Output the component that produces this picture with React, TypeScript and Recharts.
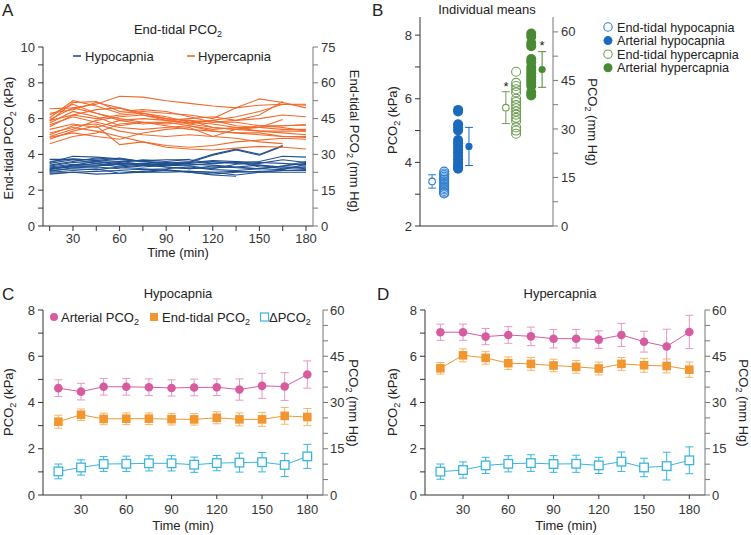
import React from "react";
import { LineChart, Line, XAxis, YAxis, ScatterChart, Scatter, ErrorBar } from "recharts";

const FONT = '"Liberation Sans", Arial, sans-serif';

// ---- panel A: individual end-tidal traces (kPa), one row per subject ----
const times = [15, 30, 45, 60, 75, 90, 105, 120, 135, 150, 165, 180];

const hypoLines: (number | null)[][] = [
  [3.72, 3.72, 3.7, 3.6, 3.65, 3.7, 3.7, 3.5, 3.6, 3.55, 3.5, 3.4],
  [3.55, 3.9, 3.85, 3.75, 3.6, 3.5, 3.55, 3.65, 3.6, 3.3, 3.3, 3.3],
  [3.4, 3.6, 3.8, 3.7, 3.6, 3.55, 3.45, 3.4, 3.3, 3.2, 3.35, 3.5],
  [3.3, 3.45, 3.4, 3.5, 3.4, 3.5, 3.6, 4.0, 4.3, 4.0, 4.5, null],
  [3.25, 3.35, 3.35, 3.45, 3.5, 3.4, 3.55, 3.95, 4.25, 3.95, 4.45, null],
  [3.2, 3.3, 3.35, 3.45, 3.5, 3.4, 3.5, 3.6, 3.5, 3.6, 3.9, 3.85],
  [3.1, 3.2, 3.15, 3.3, 3.2, 3.1, 3.05, 3.0, 2.85, 3.0, 3.1, 3.1],
  [3.0, 3.1, 3.2, 2.95, 3.0, 3.1, 3.0, 2.85, 2.78, null, null, null],
  [2.95, 3.0, 3.05, 3.1, 3.0, 3.0, 3.05, 3.0, 3.05, 3.0, 3.0, 3.0],
  [3.15, 3.35, 3.5, 3.3, 3.4, 3.3, 3.2, 3.25, 3.3, 3.4, 3.2, 3.3],
  [3.35, 3.55, 3.6, 3.55, 3.7, 3.6, 3.72, null, null, null, null, null],
  [3.5, 3.7, 3.5, 3.6, 3.45, 3.3, 3.2, 3.35, 3.25, 3.2, 3.15, 3.45],
  [3.05, 3.25, 3.3, 3.2, 3.15, 3.2, 3.3, 3.15, 3.1, 3.2, 3.35, 3.6],
  [3.2, 3.4, 3.6, 3.4, 3.3, 3.4, 3.35, 3.2, 3.45, 3.5, 3.7, 3.55],
  [3.6, 3.75, 3.65, 3.8, 3.6, 3.45, 3.4, 3.5, 3.55, 3.4, 3.3, 3.2],
  [2.9, 3.0, 2.9, 2.95, 3.05, 3.15, 3.0, 2.9, 3.0, 3.05, 3.1, 3.15],
];

const hyperLines: (number | null)[][] = [
  [6.55, 6.6, 6.8, 7.25, 7.2, 7.0, 6.85, 6.7, 6.6, 6.75, 6.8, 6.75],
  [6.05, 7.0, 6.7, 6.3, 6.4, 6.3, 6.2, 6.0, 6.6, 7.1, 6.9, 6.6],
  [5.85, 6.9, 6.95, 6.4, 6.5, 6.4, 6.1, 5.8, 5.9, 6.2, 6.95, null],
  [5.95, 6.6, 6.3, 5.9, 6.0, 5.9, 5.7, 5.9, 5.6, 5.5, 5.6, 5.65],
  [5.75, 6.4, 6.1, 5.6, 5.8, 5.8, 5.6, 5.4, 5.5, 5.3, 5.3, 5.3],
  [5.55, 6.2, 6.5, 6.6, 6.3, 6.1, 5.8, 5.7, 5.5, 5.5, 5.4, 5.4],
  [5.0, 5.4, 5.9, 6.1, 6.2, 6.0, 5.9, 5.8, 5.8, 5.6, 5.6, 5.65],
  [4.6, 5.0, 5.2, 5.7, 5.8, 5.6, 5.4, 5.3, 5.2, 5.1, 5.0, 5.0],
  [4.85, 5.3, 5.6, 4.55, 4.7, 4.5, 4.4, 4.5, 4.7, 4.8, 4.9, 4.85],
  [5.2, 5.5, 5.3, 5.0, 4.7, 4.4, 4.3, 4.25, 4.35, 4.45, 4.4, 4.3],
  [5.4, 5.7, 5.5, 5.9, 5.7, 5.8, 5.9, 5.5, 5.4, 5.3, 5.2, 5.1],
  [6.3, 6.5, 6.9, 6.6, 6.2, 5.9, 6.0, 6.1, 5.9, 6.0, 6.2, 6.1],
  [5.65, 6.1, 5.8, 5.5, 5.4, 5.5, 5.6, 5.3, 5.2, 5.2, 5.0, 4.95],
  [5.1, 5.6, 5.7, 5.3, 5.1, 5.0, 5.1, 5.0, 5.4, 5.6, 5.5, 5.3],
  [6.2, 6.8, 6.3, 6.0, 5.8, 5.7, 5.8, 5.9, 6.1, 6.4, 6.8, 6.8],
  [4.95, 5.2, 5.0, 4.85, 5.2, 5.4, 5.5, 5.0, 4.9, 4.7, 4.6, null],
  [5.9, 6.2, 6.0, 6.2, 6.3, 6.0, 5.7, 5.5, 5.4, 5.5, 5.95, null],
];

// ---- panel B: individual means (kPa) ----
const etHypo = [3.71, 3.65, 3.6, 3.55, 3.5, 3.45, 3.4, 3.35, 3.3, 3.25, 3.2, 3.15, 3.1, 3.05, 3.02];
const artHypo = [5.65, 5.6, 5.2, 5.1, 5.0, 4.7, 4.6, 4.5, 4.4, 4.3, 4.2, 4.1, 4.0, 3.9, 3.85, 3.8];
const etHyper = [6.85, 6.5, 6.4, 6.3, 6.2, 6.0, 5.9, 5.8, 5.7, 5.6, 5.5, 5.4, 5.3, 5.1, 5.0, 4.9];
const artHyper = [8.05, 7.95, 7.75, 7.65, 7.25, 7.15, 7.0, 6.9, 6.8, 6.7, 6.6, 6.5, 6.4, 6.2, 6.1];
const groupMean = [3.4, 4.5, 5.72, 6.92];
const groupSD = [0.21, 0.6, 0.5, 0.56];
const groupNames = ["End-tidal hypocapnia", "Arterial hypocapnia", "End-tidal hypercapnia", "Arterial hypercapnia"];
// category slots along the (unlabelled) x axis
const slotMean = [1, 4.05, 7.1, 10.1];
const slotIndiv = [2, 3.15, 7.95, 9.2];

// ---- panels C and D: group means ± SD (kPa) ----
const cArt = [4.62, 4.47, 4.68, 4.68, 4.66, 4.63, 4.65, 4.66, 4.56, 4.72, 4.69, 5.21];
const cArtSD = [0.36, 0.36, 0.36, 0.36, 0.36, 0.35, 0.36, 0.36, 0.46, 0.54, 0.6, 0.59];
const cEt = [3.17, 3.47, 3.29, 3.3, 3.3, 3.28, 3.27, 3.34, 3.27, 3.27, 3.42, 3.37];
const cEtSD = [0.28, 0.25, 0.25, 0.25, 0.25, 0.25, 0.25, 0.26, 0.28, 0.3, 0.36, 0.37];
const cDelta = [1.02, 1.19, 1.34, 1.35, 1.37, 1.37, 1.31, 1.38, 1.4, 1.42, 1.3, 1.67];
const cDeltaSD = [0.32, 0.33, 0.32, 0.33, 0.33, 0.33, 0.33, 0.33, 0.41, 0.42, 0.5, 0.52];

const dArt = [7.04, 7.04, 6.85, 6.92, 6.86, 6.76, 6.76, 6.72, 6.92, 6.63, 6.42, 7.05];
const dArtSD = [0.35, 0.35, 0.35, 0.36, 0.4, 0.4, 0.4, 0.38, 0.5, 0.45, 0.75, 0.72];
const dEt = [5.48, 6.04, 5.93, 5.7, 5.67, 5.6, 5.54, 5.47, 5.67, 5.61, 5.58, 5.42];
const dEtSD = [0.25, 0.28, 0.27, 0.27, 0.28, 0.27, 0.27, 0.28, 0.28, 0.3, 0.3, 0.33];
const dDelta = [1.01, 1.08, 1.28, 1.35, 1.38, 1.34, 1.35, 1.28, 1.44, 1.19, 1.25, 1.5];
const dDeltaSD = [0.33, 0.35, 0.35, 0.35, 0.36, 0.36, 0.37, 0.35, 0.42, 0.4, 0.6, 0.58];

const A_BLUE = "#1f4f8f";
const A_ORANGE = "#f06b2d";
const B_BLUE = "#1a6bbd";
const B_GREEN = "#4a8a35";
const PINK = "#d65c9f";
const ORANGE = "#f29630";
const CYAN = "#39b5de";
const AX_L = "#333";
const AX_R = "#777";

const tickStyle = { fill: "#333", fontSize: 13, fontFamily: FONT };

const aRows = times.map((t, i) => {
  const row: Record<string, number | null> = { t };
  hypoLines.forEach((l, j) => (row["hypo" + j] = l[i]));
  hyperLines.forEach((l, j) => (row["hyper" + j] = l[i]));
  return row;
});

const makeRows = (art: number[], artSD: number[], et: number[], etSD: number[], d: number[], dSD: number[]) =>
  times.map((t, i) => ({ t, art: art[i], artSD: artSD[i], et: et[i], etSD: etSD[i], d: d[i], dSD: dSD[i] }));

const cRows = makeRows(cArt, cArtSD, cEt, cEtSD, cDelta, cDeltaSD);
const dRows = makeRows(dArt, dArtSD, dEt, dEtSD, dDelta, dDeltaSD);

const circleDot = (color: string) => (p: any) => (
  <circle key={"c" + p.index} cx={p.cx} cy={p.cy} r={4.3} fill={color} />
);
const squareDot = (color: string, open: boolean) => (p: any) => (
  <rect
    key={"s" + p.index}
    x={p.cx - 4.3}
    y={p.cy - 4.3}
    width={8.6}
    height={8.6}
    fill={open ? "#fff" : color}
    stroke={color}
    strokeWidth={open ? 1.3 : 0}
  />
);

function Sub({ pre, post = "", ...rest }: any) {
  return (
    <text {...rest}>
      {pre}
      <tspan fontSize={9} dy={3}>2</tspan>
      <tspan dy={-3}>{post}</tspan>
    </text>
  );
}

function TimeChart({ rows, left, yAxisW, rAxisW, width }: any) {
  return (
    <div style={{ position: "absolute", left, top: 260 }}>
      <LineChart width={width} height={275} data={rows} margin={{ top: 50, right: 0, bottom: 0, left: 0 }}>
        <XAxis
          dataKey="t"
          type="number"
          domain={[4.8, 190.4]}
          ticks={[30, 60, 90, 120, 150, 180]}
          tickSize={4}
          tickMargin={6}
          height={40}
          stroke={AX_L}
          tick={tickStyle}
          allowDataOverflow
        />
        <YAxis
          yAxisId="l"
          domain={[0, 8]}
          ticks={[0, 1, 2, 3, 4, 5, 6, 7, 8]}
          tickFormatter={(v: number) => (v % 2 === 0 ? String(v) : "")}
          width={yAxisW}
          tickSize={5}
          tickMargin={3}
          stroke={AX_L}
          tick={tickStyle}
        />
        <YAxis
          yAxisId="r"
          dataKey="art"
          orientation="right"
          domain={[0, 60]}
          ticks={[0, 5, 10, 15, 20, 25, 30, 35, 40, 45, 50, 55, 60]}
          tickFormatter={(v: number) => (v % 15 === 0 ? String(v) : "")}
          width={rAxisW}
          tickSize={5}
          tickMargin={2}
          stroke={AX_R}
          tick={tickStyle}
          allowDataOverflow
        />
        <Line yAxisId="l" dataKey="d" stroke={CYAN} strokeWidth={1} dot={squareDot(CYAN, true)} activeDot={false} isAnimationActive={false}>
          <ErrorBar dataKey="dSD" width={4} stroke={CYAN} strokeWidth={1} />
        </Line>
        <Line yAxisId="l" dataKey="et" stroke={ORANGE} strokeWidth={1} dot={squareDot(ORANGE, false)} activeDot={false} isAnimationActive={false}>
          <ErrorBar dataKey="etSD" width={4} stroke="#f6b56a" strokeWidth={1} />
        </Line>
        <Line yAxisId="l" dataKey="art" stroke={PINK} strokeWidth={1} dot={circleDot(PINK)} activeDot={false} isAnimationActive={false}>
          <ErrorBar dataKey="artSD" width={4} stroke="#e597c3" strokeWidth={1} />
        </Line>
      </LineChart>
    </div>
  );
}

const openCircle = (color: string, r: number) => (p: any) => (
  <circle cx={p.cx} cy={p.cy} r={r} fill="none" stroke={color} strokeWidth={1.1} />
);
const filledCircle = (color: string, r: number) => (p: any) => (
  <circle cx={p.cx} cy={p.cy} r={r} fill={color} />
);

export default function App() {
  const indiv = [etHypo, artHypo, etHyper, artHyper];
  const indivColor = ["#2e7fcf", B_BLUE, "#6f9f55", B_GREEN];
  const indivOpen = [true, false, true, false];

  return (
    <div style={{ position: "absolute", left: 0, top: 0, width: 751, height: 535, background: "#fff", fontFamily: FONT }}>
      {/* A */}
      <div style={{ position: "absolute", left: 0, top: 0 }}>
        <LineChart width={360} height={260} data={aRows} margin={{ top: 47, right: 0, bottom: 0, left: 0 }}>
          <XAxis
            dataKey="t"
            type="number"
            domain={[10.7, 184.5]}
            ticks={times}
            tickFormatter={(v: number) => (v % 30 === 0 ? String(v) : "")}
            tickSize={5}
            tickMargin={3}
            height={34}
            stroke={AX_L}
            tick={tickStyle}
            allowDataOverflow
          />
          <YAxis
            yAxisId="l"
            domain={[0, 10]}
            ticks={[0, 1, 2, 3, 4, 5, 6, 7, 8, 9, 10]}
            tickFormatter={(v: number) => (v % 2 === 0 ? String(v) : "")}
            width={43}
            tickSize={5}
            tickMargin={3}
            stroke={AX_L}
            tick={tickStyle}
          />
          <YAxis
            yAxisId="r"
            dataKey="hyper0"
            orientation="right"
            domain={[0, 75]}
            ticks={[0, 7.5, 15, 22.5, 30, 37.5, 45, 52.5, 60, 67.5, 75]}
            tickFormatter={(v: number) => (v % 15 === 0 ? String(v) : "")}
            width={47}
            tickSize={5}
            tickMargin={3}
            stroke={AX_R}
            tick={tickStyle}
            allowDataOverflow
          />
          {hypoLines.map((_, j) => (
            <Line key={"hypo" + j} yAxisId="l" dataKey={"hypo" + j} stroke={A_BLUE} strokeWidth={1.1} dot={false} activeDot={false} isAnimationActive={false} />
          ))}
          {hyperLines.map((_, j) => (
            <Line key={"hyper" + j} yAxisId="l" dataKey={"hyper" + j} stroke={A_ORANGE} strokeWidth={1.1} dot={false} activeDot={false} isAnimationActive={false} />
          ))}
        </LineChart>
      </div>

      {/* B */}
      <div style={{ position: "absolute", left: 370, top: 0 }}>
        <ScatterChart width={230} height={260} margin={{ top: 17, right: 0, bottom: 0, left: 0 }}>
          <XAxis dataKey="x" type="number" domain={[0, 11]} tick={false} tickLine={false} height={34} stroke={AX_L} />
          <YAxis
            yAxisId="l"
            dataKey="y"
            domain={[2, 8.57]}
            ticks={[2, 3, 4, 5, 6, 7, 8]}
            tickFormatter={(v: number) => (v % 2 === 0 ? String(v) : "")}
            width={50}
            tickSize={5}
            tickMargin={3}
            stroke={AX_L}
            tick={tickStyle}
            allowDataOverflow
          />
          <YAxis
            yAxisId="r"
            dataKey="y"
            orientation="right"
            domain={[0, 64.6]}
            ticks={[0, 7.5, 15, 22.5, 30, 37.5, 45, 52.5, 60]}
            tickFormatter={(v: number) => (v % 15 === 0 ? String(v) : "")}
            width={47}
            tickSize={5}
            tickMargin={3}
            stroke={AX_R}
            tick={tickStyle}
            allowDataOverflow
          />
          {indiv.map((vals, g) => (
            <Scatter
              key={"ind" + g}
              yAxisId="l"
              data={vals.map((y) => ({ x: slotIndiv[g], y }))}
              shape={indivOpen[g] ? openCircle(indivColor[g], 4.5) : filledCircle(indivColor[g], 5)}
              isAnimationActive={false}
            />
          ))}
          {groupMean.map((m, g) => (
            <Scatter
              key={"mean" + g}
              yAxisId="l"
              data={[{ x: slotMean[g], y: m, sd: groupSD[g] }]}
              shape={indivOpen[g] ? (p: any) => <circle cx={p.cx} cy={p.cy} r={3.3} fill="#fff" stroke={indivColor[g]} strokeWidth={1.1} /> : filledCircle(indivColor[g], 3.6)}
              isAnimationActive={false}
            >
              <ErrorBar dataKey="sd" direction="y" width={4} stroke={indivColor[g]} strokeWidth={1} />
            </Scatter>
          ))}
        </ScatterChart>
      </div>

      <TimeChart rows={cRows} left={0} yAxisW={43} rAxisW={52} width={375} />
      <TimeChart rows={dRows} left={375} yAxisW={50} rAxisW={46} width={376} />

      {/* text layer */}
      <svg width={751} height={535} style={{ position: "absolute", left: 0, top: 0, pointerEvents: "none" }} fontFamily={FONT} fontSize={13} fill="#222">
        <text x={2} y={16} fontSize={17}>A</text>
        <Sub x={178} y={34} textAnchor="middle" pre="End-tidal PCO" />
        <line x1={73} x2={81} y1={56} y2={56} stroke={A_BLUE} strokeWidth={1.6} />
        <text x={85} y={60.5}>Hypocapnia</text>
        <line x1={187} x2={195} y1={56} y2={56} stroke={A_ORANGE} strokeWidth={1.6} />
        <text x={198} y={60.5}>Hypercapnia</text>
        <Sub x={13} y={138} transform="rotate(-90 13 138)" textAnchor="middle" pre="End-tidal PCO" post=" (kPa)" />
        <Sub x={350} y={141} transform="rotate(90 350 141)" textAnchor="middle" pre="End-tidal PCO" post=" (mm Hg)" />
        <text x={178} y={257} textAnchor="middle">Time (min)</text>

        <text x={372} y={16} fontSize={17}>B</text>
        <text x={487} y={14} textAnchor="middle">Individual means</text>
        <Sub x={397} y={120} transform="rotate(-90 397 120)" textAnchor="middle" pre="PCO" post=" (kPa)" />
        <Sub x={588} y={122} transform="rotate(90 588 122)" textAnchor="middle" pre="PCO" post=" (mm Hg)" />
        <text x={506} y={91} textAnchor="middle">*</text>
        <text x={542} y={50} textAnchor="middle">*</text>
        {groupNames.map((s, i) => (
          <g key={s}>
            {indivOpen[i] ? (
              <circle cx={608} cy={27 + i * 13.6} r={4.2} fill="none" stroke={indivColor[i]} strokeWidth={1.1} />
            ) : (
              <circle cx={608} cy={27 + i * 13.6} r={4.5} fill={indivColor[i]} />
            )}
            <text x={617} y={31.5 + i * 13.6} fontSize={12.6}>{s}</text>
          </g>
        ))}

        <text x={2} y={300} fontSize={17}>C</text>
        <text x={178} y={298} textAnchor="middle">Hypocapnia</text>
        <circle cx={54} cy={317} r={4} fill={PINK} />
        <Sub x={61} y={321.5} pre="Arterial PCO" />
        <rect x={150} y={313} width={8} height={8} fill={ORANGE} />
        <Sub x={162} y={321.5} pre="End-tidal PCO" />
        <rect x={260.5} y={313} width={8} height={8} fill="#fff" stroke={CYAN} strokeWidth={1.2} />
        <Sub x={269} y={321.5} pre="ΔPCO" />
        <Sub x={13} y={402} transform="rotate(-90 13 402)" textAnchor="middle" pre="PCO" post=" (kPa)" />
        <Sub x={349} y={403} transform="rotate(90 349 403)" textAnchor="middle" pre="PCO" post=" (mm Hg)" />
        <text x={183} y={530} textAnchor="middle">Time (min)</text>

        <text x={377} y={300} fontSize={17}>D</text>
        <text x={560} y={298} textAnchor="middle">Hypercapnia</text>
        <Sub x={397} y={402} transform="rotate(-90 397 402)" textAnchor="middle" pre="PCO" post=" (kPa)" />
        <Sub x={739} y={403} transform="rotate(90 739 403)" textAnchor="middle" pre="PCO" post=" (mm Hg)" />
        <text x={566} y={530} textAnchor="middle">Time (min)</text>
      </svg>
    </div>
  );
}
